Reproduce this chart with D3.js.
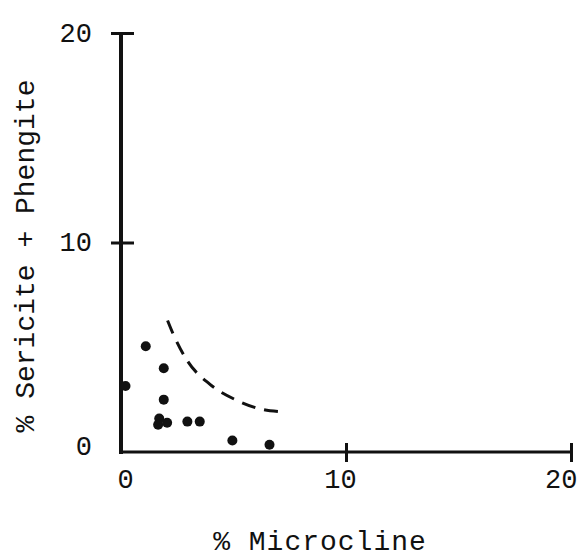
<!DOCTYPE html>
<html>
<head>
<meta charset="utf-8">
<script src="https://cdn.jsdelivr.net/npm/d3@7"></script>
<style>
  body { margin: 0; background: #fff; }
  svg { display: block; }
  text { font-family: "Liberation Mono", "DejaVu Sans Mono", monospace; fill: #111; }
</style>
</head>
<body>
<svg id="chart" width="579" height="560"></svg>
<script>
// % Microcline vs % Sericite + Phengite
const microcline = [0.2, 1.1, 1.9, 1.9, 1.7, 1.65, 2.05, 2.95, 3.5, 4.95, 6.6];
const sericite = [3.15, 5.05, 4.0, 2.5, 1.6, 1.3, 1.4, 1.45, 1.45, 0.55, 0.35];

// dashed boundary curve
const curveX = [2.07, 2.3, 2.95, 3.93, 5.1, 6.18, 7.04];
const curveY = [6.28, 5.68, 4.35, 3.25, 2.49, 2.06, 1.93];

const xTicks = [0, 10, 20];
const yTicks = [0, 10, 20];

const svg = d3.select('#chart');

const x = d3.scaleLinear().domain([0, 20]).range([121, 571]);
const y = d3.scaleLinear().domain([0, 20]).range([452, 33]);

// y axis
const yAxis = svg.append('g')
  .attr('transform', `translate(${x(0)},0)`)
  .call(d3.axisLeft(y).tickValues(yTicks).tickSize(10).tickFormat(d3.format('d')));
yAxis.select('.domain').remove();
yAxis.append('line')
  .attr('x1', 0).attr('x2', 0)
  .attr('y1', y(0) + 2).attr('y2', y(20))
  .attr('stroke', '#111').attr('stroke-width', 4);
yAxis.selectAll('.tick line')
  .attr('x1', -10).attr('x2', 13)
  .attr('stroke', '#111').attr('stroke-width', 3)
  .filter(d => d === 0).remove();
yAxis.selectAll('.tick text')
  .attr('x', -29)
  .attr('dy', d => d === 0 ? '0.1em' : '0.3em')
  .style('font-size', '27px')
  .attr('text-anchor', 'end');

// x axis
const xAxis = svg.append('g')
  .attr('transform', `translate(0,${y(0)})`)
  .call(d3.axisBottom(x).tickValues(xTicks).tickSize(10).tickFormat(d3.format('d')));
xAxis.select('.domain').remove();
xAxis.append('line')
  .attr('x1', x(0) - 2).attr('x2', x(20))
  .attr('y1', 0).attr('y2', 0)
  .attr('stroke', '#111').attr('stroke-width', 3);
xAxis.selectAll('.tick line')
  .attr('y1', -9).attr('y2', 10)
  .attr('stroke', '#111').attr('stroke-width', 3)
  .filter(d => d === 0).remove();
xAxis.selectAll('.tick text')
  .attr('y', 36)
  .attr('dy', 0)
  .style('font-size', '27px')
  .attr('text-anchor', d => d === 20 ? 'end' : 'middle')
  .attr('dx', d => d === 20 ? 6 : (d === 10 ? -6 : 4));

// dashed curve
const pts = curveX.map((d, i) => [x(d), y(curveY[i])]);
svg.append('path')
  .attr('d', d3.line().curve(d3.curveMonotoneX)(pts))
  .attr('fill', 'none')
  .attr('stroke', '#111')
  .attr('stroke-width', 3)
  .attr('stroke-dasharray', '14 9');

// points
svg.append('g')
  .selectAll('circle')
  .data(microcline.map((d, i) => ({ x: d, y: sericite[i] })))
  .enter()
  .append('circle')
  .attr('cx', d => x(d.x))
  .attr('cy', d => y(d.y))
  .attr('r', 5)
  .attr('fill', '#111');

// axis titles
svg.append('text')
  .attr('x', 320).attr('y', 550)
  .attr('text-anchor', 'middle')
  .style('font-size', '28px')
  .style('letter-spacing', '1px')
  .text('% Microcline');

svg.append('text')
  .attr('transform', 'translate(34,256) rotate(-90)')
  .attr('text-anchor', 'middle')
  .style('font-size', '28px')
  .text('% Sericite + Phengite');
</script>
</body>
</html>
